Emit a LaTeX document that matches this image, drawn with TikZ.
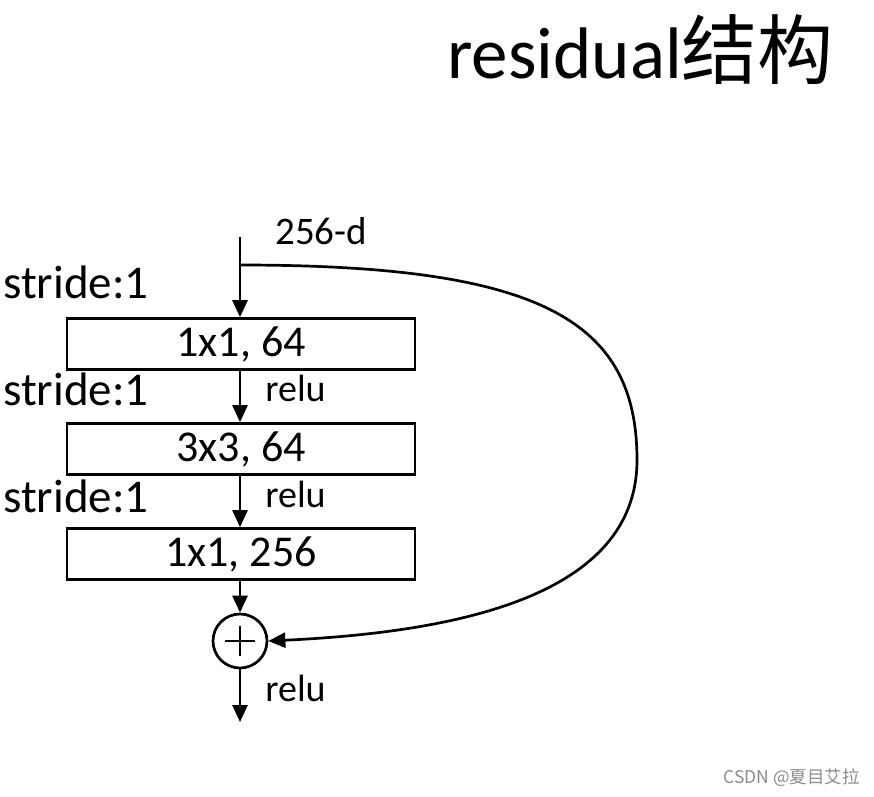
\documentclass[tikz,border=0pt]{standalone}
\usepackage{fontspec}
\setmainfont{Carlito}
\newfontfamily\cjk{Noto Sans CJK SC}
\usetikzlibrary{arrows.meta}
\begin{document}
\begin{tikzpicture}[x=1pt,y=-1pt,
  line width=2.7pt,
  arr/.style={-{Triangle[length=17pt,width=15pt]}},
  layer/.style={draw,minimum width=348pt,minimum height=51pt,inner sep=0pt,font=\fontsize{44}{50}\selectfont},
  lbl/.style={inner sep=0pt,anchor=base west},
  stridelbl/.style={inner sep=0pt,anchor=base west,font=\fontsize{47}{52}\selectfont},
  relulbl/.style={inner sep=0pt,anchor=base west,font=\fontsize{38}{42}\selectfont}]
\useasboundingbox (0,0) rectangle (874,796);
\fill[white] (0,0) rectangle (874,796);
% title
\node[lbl,font=\fontsize{73}{80}\selectfont] (title) at (446,78) {residual{\cjk\fontsize{76}{80}\selectfont 结构}};
% input
\coordinate (in) at (240,237);
\coordinate (br) at (240,265);
\node[lbl,font=\fontsize{39}{44}\selectfont] (dim) at (274,244) {256-d};
% layers
\node[layer] (l1) at (241,344) {1x1, 64};
\node[layer] (l2) at (241,449) {3x3, 64};
\node[layer] (l3) at (241,554) {1x1, 256};
\node[draw,circle,minimum size=54pt,inner sep=0pt] (sum) at (240,641) {};
\draw[line width=2.4pt] ([yshift=-15pt]sum.center) -- ([yshift=15pt]sum.center)
  ([xshift=-15pt]sum.center) -- ([xshift=15pt]sum.center);
\coordinate (out) at (240,722);
% stride labels
\node[stridelbl] (s1) at (2,298) {stride:1};
\node[stridelbl] (s2) at (2,405) {stride:1};
\node[stridelbl] (s3) at (2,512) {stride:1};
% relu labels
\node[relulbl] (r1) at (264,401) {relu};
\node[relulbl] (r2) at (264,507) {relu};
\node[relulbl] (r3) at (264,701) {relu};
% connectors
\draw[arr] (in) -- (l1.north -| in);
\draw[arr] (l1.south -| in) -- (l2.north -| in);
\draw[arr] (l2.south -| in) -- (l3.north -| in);
\draw[arr] (l3.south -| in) -- (sum.north);
\draw[arr] (sum.south) -- (out);
\draw[arr] (br) .. controls (540,265) and (637,320) .. (637,460)
  .. controls (637,595) and (460,632) .. (sum.east);
% watermark
\node[inner sep=0pt,anchor=base west,text=black!45,font=\cjk\fontsize{17.5}{19}\selectfont] (wm) at (722,783) {CSDN @夏目艾拉};
\end{tikzpicture}
\end{document}
